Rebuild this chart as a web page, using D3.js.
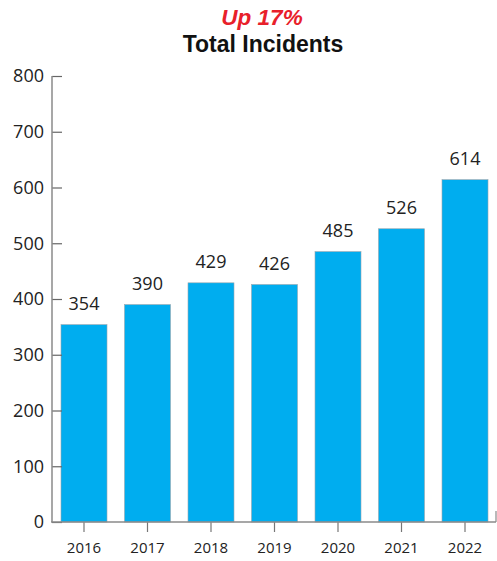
<!DOCTYPE html>
<html>
<head>
<meta charset="utf-8">
<script src="https://cdn.jsdelivr.net/npm/d3@7"></script>
<style>
  html, body { margin: 0; padding: 0; background: #fff; }
  svg { display: block; }
</style>
</head>
<body>
<svg id="chart" width="497" height="561"></svg>
<script>
// Yearly incident totals
const years = ["2016", "2017", "2018", "2019", "2020", "2021", "2022"];
const incidents = [354, 390, 429, 426, 485, 526, 614];
const yTicks = [0, 100, 200, 300, 400, 500, 600, 700, 800];

const svg = d3.select("#chart");

const x = d3.scaleBand()
  .domain(years)
  .range([52, 497])
  .paddingInner(0.2756)
  .paddingOuter(0.1417);

const y = d3.scaleLinear().domain([0, 800]).range([522, 76]);

// Title
svg.append("text")
  .attr("x", 262).attr("y", 25)
  .attr("text-anchor", "middle")
  .attr("font-family", "Liberation Sans, Arial, sans-serif")
  .attr("font-weight", "bold").attr("font-style", "italic")
  .attr("font-size", 22.5)
  .attr("fill", "#e8202a")
  .text("Up 17%");
svg.append("text")
  .attr("x", 263).attr("y", 52)
  .attr("text-anchor", "middle")
  .attr("font-family", "Liberation Sans, Arial, sans-serif")
  .attr("font-weight", "bold")
  .attr("font-size", 23)
  .attr("fill", "#111")
  .text("Total Incidents");

// Bars
svg.append("g").selectAll("rect")
  .data(years)
  .join("rect")
  .attr("x", (d) => x(d))
  .attr("width", x.bandwidth())
  .attr("y", (d, i) => y(incidents[i]))
  .attr("height", (d, i) => y(0) - y(incidents[i]))
  .attr("fill", "#00adef")
  .attr("stroke", "#9aa6ad")
  .attr("stroke-width", 0.6);

// Value labels
svg.append("g").selectAll("text")
  .data(years)
  .join("text")
  .attr("x", (d) => x(d) + x.bandwidth() / 2)
  .attr("y", (d, i) => y(incidents[i]) - 15)
  .attr("text-anchor", "middle")
  .attr("font-family", "Open Sans, sans-serif")
  .attr("font-size", 18)
  .attr("fill", "#222")
  .text((d, i) => incidents[i]);

// Y axis: ticks point inward
const yAxis = d3.axisRight(y).tickValues(yTicks).tickSize(10).tickFormat(() => "");
const yg = svg.append("g").attr("transform", "translate(52,0)").call(yAxis);
yg.select(".domain").remove();
yg.selectAll(".tick line").attr("stroke", "#666").attr("stroke-width", 1.2);
svg.append("line")
  .attr("x1", 52).attr("x2", 52)
  .attr("y1", y(800)).attr("y2", y(0))
  .attr("stroke", "#8a8a8a").attr("stroke-width", 1.5);

svg.append("g").selectAll("text")
  .data(yTicks)
  .join("text")
  .attr("x", 44)
  .attr("y", (d) => y(d))
  .attr("dy", "0.36em")
  .attr("text-anchor", "end")
  .attr("font-family", "Open Sans, sans-serif")
  .attr("font-size", 18)
  .attr("fill", "#222")
  .text((d) => d);

// X axis
const xAxis = d3.axisBottom(x).tickSize(10).tickFormat(() => "");
const xg = svg.append("g").attr("transform", "translate(0,522)").call(xAxis);
xg.select(".domain").remove();
xg.selectAll(".tick line").attr("stroke", "#777").attr("stroke-width", 1.2);
svg.append("line")
  .attr("x1", 51).attr("x2", 496)
  .attr("y1", 522).attr("y2", 522)
  .attr("stroke", "#8a8a8a").attr("stroke-width", 1.5);
svg.append("line")
  .attr("x1", 496).attr("x2", 496)
  .attr("y1", 511).attr("y2", 522)
  .attr("stroke", "#8a8a8a").attr("stroke-width", 1.2);

svg.append("g").selectAll("text")
  .data(years)
  .join("text")
  .attr("x", (d) => x(d) + x.bandwidth() / 2)
  .attr("y", 553)
  .attr("text-anchor", "middle")
  .attr("font-family", "Open Sans, sans-serif")
  .attr("font-size", 15)
  .attr("fill", "#222")
  .text((d) => d);
</script>
</body>
</html>
